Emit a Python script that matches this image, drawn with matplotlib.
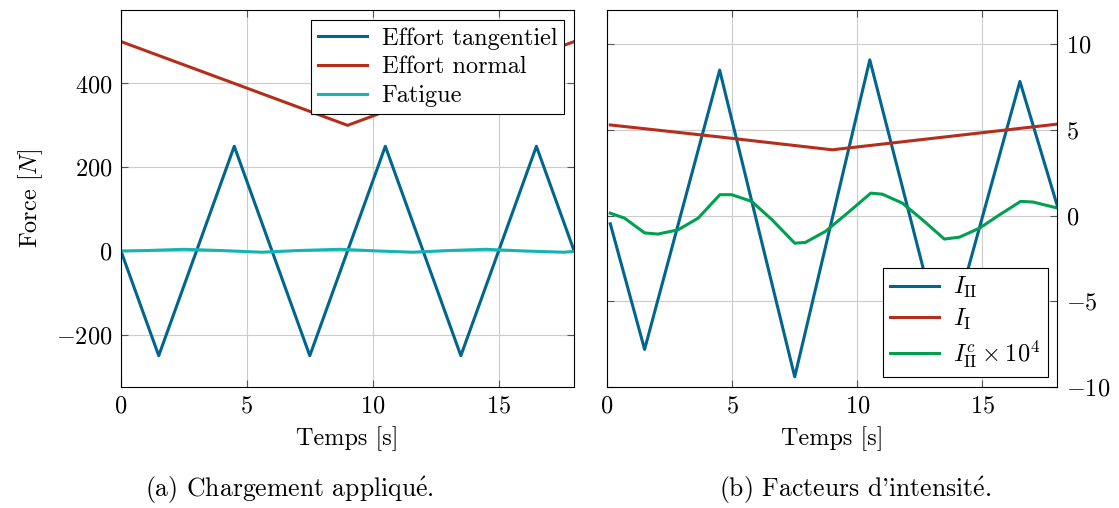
import matplotlib
matplotlib.use("Agg")
import matplotlib.pyplot as plt

plt.rcParams['font.family'] = ['cmr10', 'DejaVu Serif']
plt.rcParams['mathtext.fontset'] = 'cm'
plt.rcParams['axes.formatter.use_mathtext'] = True
plt.rcParams['font.size'] = 17.5

# (a) applied loading
t_tang = [0, 1.5, 4.5, 7.5, 10.5, 13.5, 16.5, 18]
f_tang = [0, -250, 250, -250, 250, -250, 250, 0]
t_norm = [0, 9, 18]
f_norm = [500, 300, 500]
t_fat = [0, 1.0, 2.5, 4.0, 5.6, 7.0, 8.7, 10.2, 11.6, 13.0, 14.5, 16.0, 17.6, 18]
f_fat = [0, 1, 4, 1, -3, 1, 4, 0, -3, 1, 4, 0, -3, -1]

# (b) intensity factors
t_k2 = [0.13, 1.5, 4.5, 7.5, 10.5, 13.5, 16.5, 18]
k2 = [-0.47, -7.8, 8.5, -9.4, 9.1, -8.0, 7.84, 0.55]
t_k1 = [0.13, 4.5, 9, 13.5, 18]
k1 = [5.3, 4.6, 3.85, 4.6, 5.35]
t_k2c = [0.13, 0.7, 1.5, 2.03, 2.84, 3.64, 4.51, 4.98, 5.78, 6.59, 7.5, 7.92,
         8.73, 9.53, 10.54, 11.0, 11.8, 12.6, 13.48, 14.08, 14.89, 15.69,
         16.53, 17.03, 18]
k2c = [0.15, -0.14, -1.0, -1.07, -0.82, -0.14, 1.23, 1.23, 0.84, -0.23, -1.6,
       -1.56, -0.91, 0.06, 1.32, 1.26, 0.74, -0.23, -1.36, -1.25, -0.72, 0.06,
       0.84, 0.8, 0.45]

BLUE = '#00668f'
RED = '#b52e1c'
CYAN = '#14b4b4'
GREEN = '#00a050'

LEGEND_KW = dict(fancybox=False, edgecolor='black', framealpha=1,
                 borderaxespad=0.4, handlelength=2.0, labelspacing=0.27,
                 borderpad=0.3, handletextpad=0.6, fontsize=17.5)


def style_axes(ax):
    ax.grid(True, color='#cccccc', linewidth=0.8)
    ax.tick_params(direction='in', top=True, right=True, length=5,
                   color='#555555', pad=6)
    ax.set_axisbelow(True)
    ax.set_xlim(0, 18)
    ax.set_xticks([0, 5, 10, 15])
    ax.set_xlabel('Temps [s]', labelpad=6)


fig = plt.figure(figsize=(11.19, 5.08), dpi=100)
ax1 = fig.add_axes([0.1081, 0.238, 0.405, 0.742])
ax2 = fig.add_axes([0.5425, 0.238, 0.4025, 0.742])

ax1.plot(t_tang, f_tang, color=BLUE, lw=2.2, label='Effort tangentiel')
ax1.plot(t_norm, f_norm, color=RED, lw=2.2, label='Effort normal')
ax1.plot(t_fat, f_fat, color=CYAN, lw=2.2, label='Fatigue')
style_axes(ax1)
ax1.set_ylim(-325, 575)
ax1.set_yticks([-200, 0, 200, 400])
ax1.set_ylabel('Force [$N$]', labelpad=8)
ax1.legend(loc='upper right', **LEGEND_KW).get_frame().set_linewidth(0.8)

ax2.plot(t_k2, k2, color=BLUE, lw=2.2, label=r'$I_{\mathrm{II}}$')
ax2.plot(t_k1, k1, color=RED, lw=2.2, label=r'$I_{\mathrm{I}}$')
ax2.plot(t_k2c, k2c, color=GREEN, lw=2.2, label=r'$I_{\mathrm{II}}^{c}\times 10^{4}$')
style_axes(ax2)
ax2.set_ylim(-10, 12)
ax2.set_yticks([-10, -5, 0, 5, 10])
ax2.yaxis.tick_right()
ax2.tick_params(left=True, labelleft=False, labelright=True)
ax2.legend(loc='lower right', **LEGEND_KW).get_frame().set_linewidth(0.8)

fig.text(0.259, 0.022, '(a) Chargement appliqu$\\mathrm{\\acute{e}}$.',
         ha='center', fontsize=18.5)
fig.text(0.764, 0.022, "(b) Facteurs d'intensit$\\mathrm{\\acute{e}}$.",
         ha='center', fontsize=18.5)

fig.savefig('out.png', dpi=100)
